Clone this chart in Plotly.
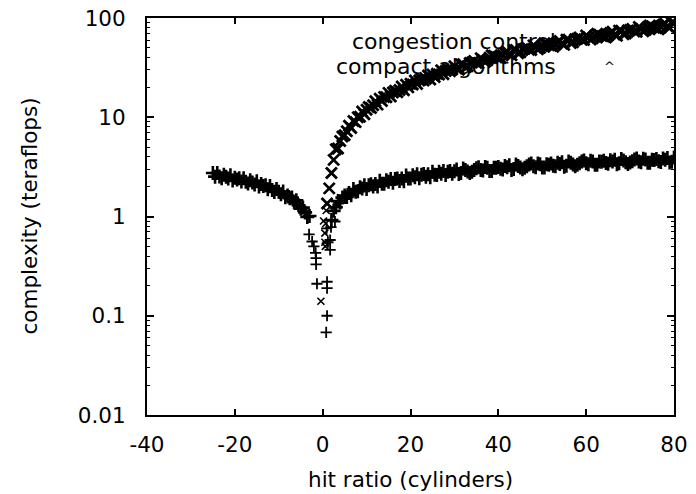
import plotly.graph_objects as go

# ---------------- data ----------------
# "congestion control" (+ markers): left branch, central drop, right branch
cc_left_x = [-25, -24.5, -24, -23.5, -23, -22.5, -22, -21.5, -21, -20.5, -20, -19.5,
             -19, -18.5, -18, -17.5, -17, -16.5, -16, -15.5, -15, -14.5, -14, -13.5,
             -13, -12.5, -12, -11.5, -11, -10.5, -10, -9.5, -9, -8.5, -8, -7.5,
             -7, -6.5, -6, -5.5, -5, -4.5, -4, -3.5, -3]
cc_left_y = [2.74, 2.52, 2.74, 2.53, 2.43, 2.63, 2.51, 2.41, 2.61, 2.31, 2.46, 2.36,
             2.43, 2.25, 2.43, 2.24, 2.15, 2.32, 2.20, 2.10, 2.27, 2.00, 2.12, 2.03,
             2.06, 1.88, 2.03, 1.85, 1.77, 1.89, 1.78, 1.68, 1.79, 1.56, 1.63, 1.53,
             1.55, 1.39, 1.46, 1.30, 1.20, 1.23, 1.10, 0.99, 1.01]

cc_mid_x = [-3.1, -2.4, -2.0, -1.6, -1.5, -1.5, -1.3, 1.0, 1.0, 1.0, 0.8, 0.9, 2.8, 1.7, 1.7, 1.2, 1.9]
cc_mid_y = [0.66, 0.56, 0.50, 0.43, 0.38, 0.33, 0.21, 0.22, 0.19, 0.10, 0.068, 0.76, 0.89, 0.58, 0.46, 0.55, 0.78]

cc_right_x = [2.0, 2.5, 3.0, 3.5, 4.0, 4.5, 5.0, 5.5, 6.0, 6.5, 7.0, 7.5, 8.0, 8.5, 9.0, 9.5,
              10, 10.5, 11, 11.5, 12, 12.5, 13, 13.5, 14, 14.5, 15, 15.5, 16, 16.5, 17, 17.5,
              18, 18.5, 19, 19.5, 20, 20.5, 21, 21.5, 22, 22.5, 23, 23.5, 24, 24.5, 25, 25.5,
              26, 26.5, 27, 27.5, 28, 28.5, 29, 29.5, 30, 31, 32, 33, 34, 35, 36, 37, 38, 39,
              40, 41, 42, 43, 44, 45, 46, 47, 48, 49, 50, 51, 52, 53, 54, 55, 56, 57, 58, 59,
              60, 61, 62, 63, 64, 65, 66, 67, 68, 69, 70, 71, 72, 73, 74, 75, 76, 77, 78, 79, 80,
              30.5, 31.5, 32.5, 33.5, 34.5, 35.5, 36.5, 37.5, 38.5, 39.5, 40.5, 41.5, 42.5, 43.5,
              44.5, 45.5, 46.5, 47.5, 48.5, 49.5, 50.5, 51.5, 52.5, 53.5, 54.5, 55.5, 56.5, 57.5,
              58.5, 59.5, 60.5, 61.5, 62.5, 63.5, 64.5, 65.5, 66.5, 67.5, 68.5, 69.5, 70.5, 71.5,
              72.5, 73.5, 74.5, 75.5, 76.5, 77.5, 78.5, 79.5]
cc_right_y = [0.92, 1.14, 1.24, 1.43, 1.38, 1.55, 1.63, 1.57, 1.72, 1.64, 1.89, 1.78, 1.80, 1.97, 1.91, 2.06,
              1.89, 2.06, 2.11, 2.00, 2.13, 2.00, 2.29, 2.14, 2.14, 2.32, 2.24, 2.39, 2.19, 2.38, 2.42, 2.28,
              2.42, 2.27, 2.59, 2.41, 2.41, 2.60, 2.49, 2.67, 2.43, 2.63, 2.68, 2.51, 2.66, 2.49, 2.83, 2.63,
              2.62, 2.82, 2.70, 2.88, 2.62, 2.83, 2.87, 2.69, 2.85, 2.68, 3.04, 2.84, 2.83, 3.07, 2.94, 3.15, 2.87, 3.10,
              3.16, 2.97, 3.14, 2.94, 3.34, 3.11, 3.09, 3.34, 3.20, 3.41, 3.11, 3.36, 3.41, 3.20, 3.38, 3.17, 3.59, 3.34, 3.33, 3.59,
              3.44, 3.65, 3.33, 3.58, 3.64, 3.40, 3.59, 3.36, 3.79, 3.52, 3.49, 3.76, 3.59, 3.82, 3.47, 3.73, 3.79, 3.54, 3.74, 3.49, 3.94,
              2.98, 2.75, 2.94, 2.74, 2.94, 3.14, 2.90, 3.10, 2.88, 3.09, 3.02, 3.22, 3.28, 3.01,
              3.22, 2.99, 3.20, 3.41, 3.14, 3.36, 3.12, 3.33, 3.25, 3.47, 3.53, 3.24, 3.47, 3.21,
              3.44, 3.67, 3.37, 3.59, 3.33, 3.56, 3.46, 3.69, 3.74, 3.43, 3.66, 3.38, 3.61, 3.84,
              3.53, 3.75, 3.47, 3.71, 3.61, 3.84, 3.89, 3.57]

# "compact algorithms" (x markers): central points and rising branch
ca_mid_x = [-0.4, 0.2, 0.5, 0.5, 0.6, 0.7, 0.8]
ca_mid_y = [0.14, 0.90, 0.68, 0.55, 0.50, 0.85, 1.15]

ca_right_x = [1.0, 1.5, 2.0, 2.5, 3.0, 3.5, 4.0, 4.5, 5.0, 5.5, 6.0, 6.5, 7.0, 7.5, 8.0, 8.5, 9.0, 9.5,
              10, 10.5, 11, 11.5, 12, 12.5, 13, 13.5, 14, 14.5, 15, 15.5, 16, 16.5, 17, 17.5,
              18, 18.5, 19, 19.5, 20, 20.5, 21, 21.5, 22, 22.5, 23, 23.5, 24, 24.5, 25, 25.5,
              26, 26.5, 27, 27.5, 28, 28.5, 29, 29.5, 30, 31, 32, 33, 34, 35, 36, 37, 38, 39,
              40, 41, 42, 43, 44, 45, 46, 47, 48, 49, 50, 51, 52, 53, 54, 55, 56, 57, 58, 59,
              60, 61, 62, 63, 64, 65, 66, 67, 68, 69, 70, 71, 72, 73, 74, 75, 76, 77, 78, 79, 80,
              30.5, 31.5, 32.5, 33.5, 34.5, 35.5, 36.5, 37.5, 38.5, 39.5, 40.5, 41.5, 42.5, 43.5,
              44.5, 45.5, 46.5, 47.5, 48.5, 49.5, 50.5, 51.5, 52.5, 53.5, 54.5, 55.5, 56.5, 57.5,
              58.5, 59.5, 60.5, 61.5, 62.5, 63.5, 64.5, 65.5, 66.5, 67.5, 68.5, 69.5, 70.5, 71.5,
              72.5, 73.5, 74.5, 75.5, 76.5, 77.5, 78.5, 79.5]
ca_right_y = [1.35, 1.92, 2.75, 3.72, 4.77, 4.85, 5.76, 6.39, 6.60, 7.23, 8.19, 7.80, 9.15, 8.93, 10.0, 10.1, 11.4, 10.7,
              11.9, 12.7, 12.4, 13.2, 14.5, 13.4, 15.4, 14.6, 16.0, 15.9, 17.6, 16.2, 17.8, 18.5, 17.9, 18.8,
              20.4, 18.7, 21.2, 20.0, 21.7, 21.4, 23.5, 21.6, 23.4, 24.3, 23.4, 24.4, 26.3, 24.0, 27.0, 25.4,
              27.5, 27.0, 29.7, 27.1, 29.3, 30.4, 29.1, 30.2, 32.6, 30.1, 34.3, 32.6, 35.7, 35.3, 39.3, 36.3, 39.7, 41.6,
              40.3, 42.2, 45.9, 42.1, 47.7, 45.1, 49.0, 48.0, 53.0, 48.5, 52.5, 54.6, 52.4, 54.5, 58.8, 53.6, 60.5, 57.0, 61.8, 60.6,
              66.8, 60.8, 65.7, 68.0, 65.0, 67.3, 72.7, 66.2, 74.5, 69.9, 75.5, 73.7, 81.0, 73.7, 79.6, 82.4, 78.8, 81.6, 87.8, 79.7, 89.4,
              30.9, 34.1, 31.8, 35.2, 36.9, 35.1, 37.7, 37.6, 42.2, 40.5, 39.5, 44.4, 43.4, 47.6,
              44.1, 48.5, 50.4, 47.5, 50.5, 50.0, 55.7, 53.0, 51.2, 57.2, 55.4, 60.5, 55.9, 61.2,
              63.6, 59.9, 63.5, 62.6, 69.4, 65.8, 63.5, 70.7, 68.4, 74.6, 68.6, 74.9, 77.6, 72.8,
              77.0, 75.9, 84.2, 79.8, 76.9, 85.5, 82.5, 89.7]

series_names = ["congestion control", "compact algorithms"]
x_ticks = [-40, -20, 0, 20, 40, 60, 80]
y_ticks = [0.01, 0.1, 1, 10, 100]
y_tick_text = ["0.01", "0.1", "1", "10", "100"]
x_title = "hit ratio (cylinders)"
y_title = "complexity (teraflops)"

# ---------------- figure ----------------
FONT = "DejaVu Sans"
FS = 21.5
KEY_FS = 22

cc_band_x = cc_left_x + cc_right_x
cc_band_y = cc_left_y + cc_right_y

plus_marker = dict(symbol="cross-thin", size=10, line=dict(color="black", width=2.6), color="black")
plus_small = dict(symbol="cross-thin", size=8, line=dict(color="black", width=1.8), color="black")
x_marker = dict(symbol="x-thin", size=11, line=dict(color="black", width=2.8), color="black")
x_small = dict(symbol="x-thin", size=7, line=dict(color="black", width=1.6), color="black")

fig = go.Figure()
fig.add_trace(go.Scatter(x=cc_band_x, y=cc_band_y, mode="markers", name=series_names[0],
                         legendgroup="cc", showlegend=False, marker=plus_marker))
fig.add_trace(go.Scatter(x=cc_mid_x, y=cc_mid_y, mode="markers", name=series_names[0],
                         legendgroup="cc", showlegend=False, marker=plus_small))
fig.add_trace(go.Scatter(x=ca_right_x, y=ca_right_y, mode="markers", name=series_names[1],
                         legendgroup="ca", showlegend=False, marker=x_marker))
fig.add_trace(go.Scatter(x=ca_mid_x, y=ca_mid_y, mode="markers", name=series_names[1],
                         legendgroup="ca", showlegend=False, marker=x_small))

# gnuplot-style key: text right-aligned, sample to its right
key_right = 0.778
key_rows = [0.942, 0.879]
for name, yrow in zip(series_names, key_rows):
    fig.add_annotation(xref="paper", yref="paper", x=key_right, y=yrow, text=name,
                       showarrow=False, xanchor="right", yanchor="middle", borderpad=0,
                       font=dict(family=FONT, size=KEY_FS, color="black"))
fig.add_annotation(xref="paper", yref="paper", x=0.8767, y=key_rows[1], text="^",
                   showarrow=False, xanchor="center", yanchor="middle",
                   font=dict(family=FONT, size=13, color="black"))

# axis titles
fig.add_annotation(xref="paper", yref="paper", x=0.5, y=-0.1637, text=x_title,
                   showarrow=False, xanchor="center", yanchor="middle",
                   font=dict(family=FONT, size=FS, color="black"))
fig.add_annotation(xref="paper", yref="paper", x=-0.2239, y=0.5, text=y_title,
                   showarrow=False, xanchor="center", yanchor="middle", textangle=-90,
                   font=dict(family=FONT, size=FS, color="black"))

fig.update_layout(
    width=696, height=494, autosize=False,
    margin=dict(l=147, r=22, t=18, b=79, autoexpand=False),
    paper_bgcolor="white", plot_bgcolor="white",
    font=dict(family=FONT, size=FS, color="black"),
    showlegend=False,
)
fig.update_xaxes(
    range=[-40, 80], tickvals=x_ticks, ticktext=[str(v) for v in x_ticks],
    ticks="inside", ticklen=6, tickwidth=1.5, tickcolor="black",
    showline=True, linecolor="black", linewidth=2, mirror="ticks",
    showgrid=False, zeroline=False, ticklabelstandoff=9, automargin=False,
    tickfont=dict(family=FONT, size=FS, color="black"),
)
fig.update_yaxes(
    type="log", range=[-2, 2], tickvals=y_ticks, ticktext=y_tick_text,
    ticks="inside", ticklen=7, tickwidth=1.5, tickcolor="black",
    minor=dict(ticks="inside", ticklen=3, tickcolor="black", tickwidth=1, dtick="D1", showgrid=False),
    showline=True, linecolor="black", linewidth=2, mirror="ticks",
    showgrid=False, zeroline=False, ticklabelstandoff=15, automargin=False,
    tickfont=dict(family=FONT, size=FS, color="black"),
)

fig.write_html("out.html", config={"displayModeBar": False},
               post_script="document.body.style.margin='0px';document.body.style.padding='0px';")
